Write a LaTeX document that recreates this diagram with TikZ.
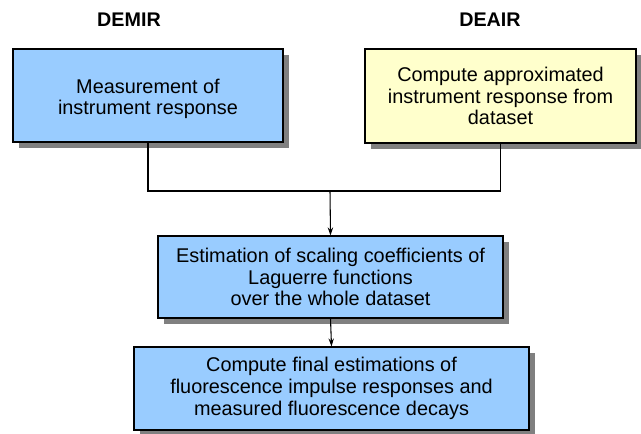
\documentclass[tikz,border=0pt]{standalone}
\usepackage{fontspec}
\setmainfont{Liberation Sans}
\usetikzlibrary{shadows,arrows.meta}

\definecolor{boxblue}{HTML}{99CCFF}
\definecolor{boxyellow}{HTML}{FFFFCC}
\definecolor{shadowgray}{HTML}{808080}

\begin{document}
\begin{tikzpicture}[
      x = .75pt, y = -.75pt,
      every node/.style = {
        font = \fontsize{14.9pt}{16.3pt}\selectfont, align = center},
      stepbox/.style = {
        rectangle, draw, black, line width = .8pt, fill = boxblue,
        drop shadow = {shadowgray, opacity = 1,
          shadow xshift = 4.5pt, shadow yshift = -4.5pt}},
      title/.style = {font = \fontsize{14.8pt}{16pt}\selectfont\bfseries},
      every path/.style = {line width = .8pt}
      ]
    \useasboundingbox (0,0) rectangle (641,433);
    \node[title] (demir) at (129,20) {DEMIR};
    \node[title] (deair) at (490,20) {DEAIR};
    \node[stepbox, minimum width = 202.5pt, minimum height = 69.75pt]
      (meas) at (148,95.5) {};
    \node (meastext) at (148,99) {Measurement of\\instrument  response};
    \node[stepbox, fill = boxyellow, minimum width = 203.25pt, minimum height = 70.5pt]
      (approx) at (500.5,96) {Compute approximated\\instrument response from\\dataset};
    \node[stepbox, minimum width = 258.75pt, minimum height = 61.5pt]
      (scal) at (330.5,277) {Estimation of scaling coefficients of\\Laguerre functions\\over the whole dataset};
    \node[stepbox, minimum width = 296.25pt, minimum height = 62.25pt]
      (final) at (331.5,388.5) {Compute final estimations of\\fluorescence impulse responses and\\measured fluorescence decays};
    \coordinate (join) at (330,191);
    \draw (meas.south) |- (join) -| (approx.south);
    \draw[-{Stealth[length = 6pt, width = 4pt]}] (join) -- (scal.north);
    \draw[-{Stealth[length = 6pt, width = 4pt]}] (scal.south) -- (final.north);
  \end{tikzpicture}
\end{document}
